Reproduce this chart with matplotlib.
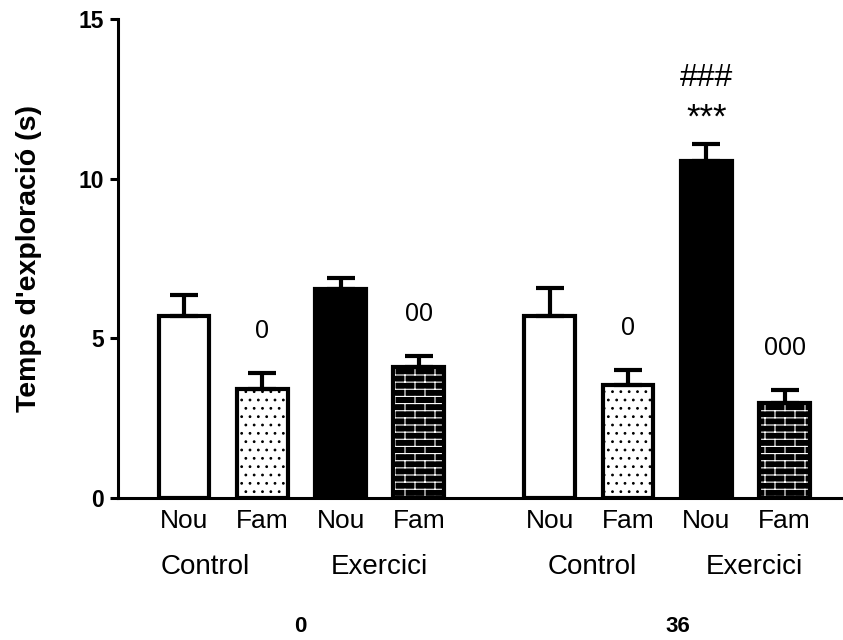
import warnings
import numpy as np
import matplotlib
matplotlib.use("Agg")
import matplotlib.pyplot as plt
from matplotlib import hatch as mhatch
from matplotlib.path import Path

warnings.simplefilter("ignore", matplotlib.MatplotlibDeprecationWarning)

# dades
grups = ["0", "36"]
condicions = ["Control", "Exercici"]
objectes = ["Nou", "Fam", "Nou", "Fam"]
mitjanes_0 = [5.7, 3.4, 6.55, 4.1]
errors_0 = [0.65, 0.52, 0.35, 0.35]
mitjanes_36 = [5.7, 3.53, 10.55, 2.97]
errors_36 = [0.88, 0.48, 0.53, 0.41]
signif_0 = ["", "0", "", "00"]
signif_36 = ["", "0", "###\n***", "000"]


# patro de maons (no existeix a matplotlib)
class Maons(mhatch.HatchPatternBase):
    def __init__(self, hatch, density):
        self.files = hatch.count('b') * 14
        self.cols = 5
        if self.files:
            self.num_vertices = self.files * 2 + (self.files + 1) * self.cols * 2
        else:
            self.num_vertices = 0

    def set_vertices_and_codes(self, vertices, codes):
        pas = 1.0 / self.files
        n = 0
        for f in range(self.files):
            y = f * pas + pas / 2
            vertices[n] = (0, y)
            vertices[n + 1] = (1, y)
            n += 2
            desp = 0.5 / self.cols if f % 2 else 0.0
            for c in range(self.cols):
                x = c / self.cols + desp + 0.25 / self.cols
                vertices[n] = (x, y)
                vertices[n + 1] = (x, min(y + pas, 1.0))
                n += 2
        desp = 0.5 / self.cols if (self.files - 1) % 2 else 0.0
        for c in range(self.cols):
            x = c / self.cols + desp + 0.25 / self.cols
            vertices[n] = (x, 0)
            vertices[n + 1] = (x, pas / 2)
            n += 2
        codes[0::2] = Path.MOVETO
        codes[1::2] = Path.LINETO


mhatch._hatch_types.append(Maons)

plt.rcParams['font.family'] = ['Liberation Sans', 'DejaVu Sans']
plt.rcParams['hatch.linewidth'] = 0.8

mitjanes = mitjanes_0 + mitjanes_36
errors = errors_0 + errors_36
signif = signif_0 + signif_36
pos = np.concatenate([np.arange(4), np.arange(4) + 4.67])

fons = ['white', 'white', 'black', 'black'] * 2
trama = [None, '..', None, 'b'] * 2
color_trama = ['black', 'black', 'black', 'white'] * 2

fig = plt.figure(figsize=(8.43, 6.4), dpi=100)
ax = fig.add_axes([118 / 843, 142 / 640, 725 / 843, 479 / 640])

for i in range(len(pos)):
    ax.bar(pos[i], mitjanes[i], width=0.65, color=fons[i], hatch=trama[i],
           edgecolor=color_trama[i], linewidth=0, zorder=2)
ax.bar(pos, mitjanes, width=0.65, fill=False, edgecolor='black',
       linewidth=3, zorder=3)
ax.errorbar(pos, mitjanes, yerr=[np.zeros(len(errors)), errors], fmt='none',
            ecolor='black', elinewidth=3, capsize=10, capthick=3, zorder=4)

for i in range(len(pos)):
    s = signif[i]
    dalt = mitjanes[i] + errors[i]
    if s == "":
        continue
    if "\n" in s:
        hash_, ast = s.split("\n")
        ax.annotate(ast, (pos[i], dalt), xytext=(0, 12), textcoords='offset points',
                    ha='center', va='baseline', fontsize=25)
        ax.annotate(hash_, (pos[i], dalt), xytext=(0, 42), textcoords='offset points',
                    ha='center', va='baseline', fontsize=23)
    else:
        ax.annotate(s, (pos[i], dalt), xytext=(0, 25), textcoords='offset points',
                    ha='center', va='baseline', fontsize=18)

ax.set_xlim(-0.843, 8.416)
ax.set_ylim(0, 15)
ax.set_yticks([0, 5, 10, 15])
ax.set_xticks(pos, objectes * 2)
ax.tick_params(axis='x', length=0, pad=8, labelsize=19)
ax.tick_params(axis='y', length=6, width=2.2, pad=4, labelsize=16.5)
for t in ax.get_yticklabels():
    t.set_fontweight('bold')
for side in ['top', 'right']:
    ax.spines[side].set_visible(False)
for side in ['left', 'bottom']:
    ax.spines[side].set_linewidth(2.2)

ax.set_ylabel("Temps d'exploració (s)", fontsize=20.5, fontweight='bold', labelpad=26)

x_cond = [0.27, 2.5, 5.22, 7.29]
for x, nom in zip(x_cond, condicions * 2):
    ax.annotate(nom, (x, 0), xycoords=('data', 'axes fraction'), xytext=(0, -54.5),
                textcoords='offset points', ha='center', va='baseline', fontsize=20)

x_grup = [1.48, 6.3]
for x, nom in zip(x_grup, grups):
    ax.annotate(nom, (x, 0), xycoords=('data', 'axes fraction'), xytext=(0, -96.5),
                textcoords='offset points', ha='center', va='baseline',
                fontsize=16, fontweight='bold')

fig.savefig("out.png", dpi=100)
